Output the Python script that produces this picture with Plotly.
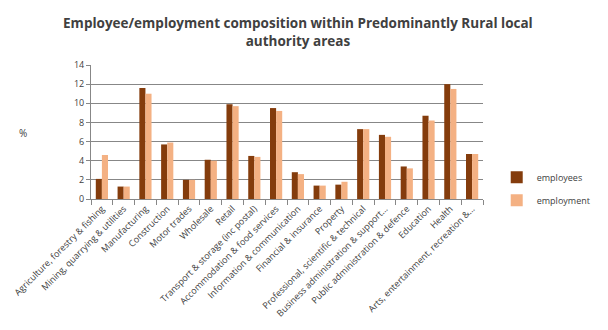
import plotly.graph_objects as go

categories = [
    "Agriculture, forestry & fishing",
    "Mining, quarrying & utilities",
    "Manufacturing",
    "Construction",
    "Motor trades",
    "Wholesale",
    "Retail",
    "Transport & storage (inc postal)",
    "Accommodation & food services",
    "Information & communication",
    "Financial & insurance",
    "Property",
    "Professional, scientific & technical",
    "Business administration & support…",
    "Public administration & defence",
    "Education",
    "Health",
    "Arts, entertainment, recreation &…",
]
employees = [2.1, 1.3, 11.6, 5.7, 2.0, 4.1, 9.9, 4.5, 9.5, 2.8, 1.4,
             1.5, 7.3, 6.7, 3.4, 8.7, 12.0, 4.7]
employment = [4.6, 1.3, 11.0, 5.9, 2.0, 4.0, 9.7, 4.4, 9.2, 2.6, 1.4,
              1.8, 7.3, 6.5, 3.2, 8.2, 11.5, 4.7]
y_ticks = [0, 2, 4, 6, 8, 10, 12, 14]

font = "Open Sans"

fig = go.Figure()
fig.add_trace(go.Bar(x=categories, y=employees, name="employees",
                     legendgroup="a",
                     marker=dict(color="#843C0C", line=dict(width=0))))
fig.add_trace(go.Bar(x=categories, y=employment, name="employment",
                     legendgroup="b",
                     marker=dict(color="#F4B183", line=dict(width=0))))

fig.update_layout(
    width=608, height=330,
    margin=dict(l=91, r=97, t=65, b=131),
    paper_bgcolor="white", plot_bgcolor="white",
    barmode="group", bargap=0.44, bargroupgap=0,
    font=dict(family=font, size=9, color="#404040"),
    title=dict(
        text="<b>Employee/employment composition within Predominantly Rural local<br>authority areas</b>",
        x=0.49, xanchor="center", y=0.915, yanchor="top",
        font=dict(family=font, size=13.5, color="#404040"),
    ),
    legend=dict(x=1.035, y=0.27, xanchor="left", yanchor="top",
                font=dict(family=font, size=9, color="#404040"),
                itemwidth=30, tracegroupgap=4),
    xaxis=dict(
        tickangle=-45, showline=True, linecolor="#878787", linewidth=1,
        ticks="outside", tickson="boundaries", ticklen=5, tickcolor="#878787",
        tickfont=dict(family=font, size=9, color="#404040"),
    ),
    yaxis=dict(
        range=[0, 14], tickvals=y_ticks, showgrid=True, gridcolor="#878787",
        gridwidth=1, showline=True, linecolor="#878787", ticks="outside",
        ticklen=4, tickcolor="#878787", zeroline=False,
        tickfont=dict(family=font, size=9, color="#404040"),
    ),
    annotations=[dict(text="%", xref="paper", yref="paper", x=-0.19, y=0.49,
                      showarrow=False, font=dict(family=font, size=10, color="#404040"))],
)

fig.write_html("out.html")
